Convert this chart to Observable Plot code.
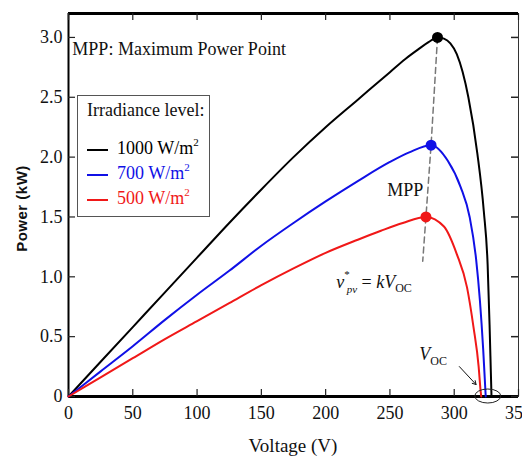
<!DOCTYPE html>
<html>
<head>
<meta charset="utf-8">
<script src="https://cdn.jsdelivr.net/npm/d3@7"></script>
<script src="https://cdn.jsdelivr.net/npm/@observablehq/plot@0.6"></script>
<style>
  html, body { margin: 0; padding: 0; background: #fff; }
  #wrap { position: relative; width: 522px; height: 461px; overflow: hidden; }
  #wrap svg text, #wrap svg tspan { font-family: "Liberation Serif", "Times New Roman", serif !important; }
  #wrap svg text.ytitle { font-family: "Liberation Sans", Arial, sans-serif !important; }
  #wrap svg g[aria-label="x-axis tick label"] text,
  #wrap svg g[aria-label="y-axis tick label"] text { font-size: 18px; }
  #legend {
    position: absolute; left: 77px; top: 95px; width: 131px; height: 120px;
    border: 1.5px solid #555; background: #fff;
    font-family: "Liberation Serif", "Times New Roman", serif; font-size: 18px; color: #111;
  }
  #legend .title { position: absolute; left: 9px; top: 4px; white-space: nowrap; }
  #legend .item { position: absolute; left: 9px; white-space: nowrap; height: 22px; line-height: 22px; }
  #legend .swatch { display: inline-block; width: 21px; height: 0; border-top: 2px solid; vertical-align: middle; margin-right: 9px; }
  #legend sup { font-size: 11px; vertical-align: 8px; line-height: 0; }
</style>
</head>
<body>
<div id="wrap"></div>
<script>
// ---- data ----
const seriesNames = ["1000 W/m2", "700 W/m2", "500 W/m2"];
const seriesColors = ["#000000", "#1010e6", "#f01818"];

const voltage1000 = [0, 25, 50, 75, 100, 125, 150, 175, 200, 225, 250, 262, 272, 280, 287, 292, 297, 302, 311, 318, 323, 326, 327.5, 328.5, 329];
const power1000   = [0, 0.29, 0.58, 0.87, 1.16, 1.45, 1.73, 2.0, 2.25, 2.48, 2.71, 2.82, 2.90, 2.96, 3.0, 2.99, 2.95, 2.86, 2.5, 2.03, 1.55, 1.1, 0.6, 0.2, 0];

const voltage700 = [0, 25, 50, 75, 100, 125, 150, 175, 200, 225, 250, 265, 282, 295, 305, 312, 317, 320, 322.5, 324, 324.5];
const power700   = [0, 0.21, 0.42, 0.64, 0.85, 1.05, 1.26, 1.45, 1.63, 1.8, 1.96, 2.04, 2.1, 1.97, 1.75, 1.5, 1.15, 0.8, 0.4, 0.1, 0];

const voltage500 = [0, 25, 50, 75, 100, 125, 150, 175, 200, 225, 243, 260, 278, 292, 302, 310, 315, 319, 320.5, 321];
const power500   = [0, 0.16, 0.32, 0.48, 0.63, 0.78, 0.93, 1.07, 1.2, 1.31, 1.385, 1.45, 1.5, 1.42, 1.19, 0.91, 0.58, 0.25, 0.05, 0];

// maximum power points
const mppVoltage = [287, 282, 278];
const mppPower   = [3.0, 2.1, 1.5];
// dashed locus v*pv = k Voc, continued below the 500 W/m2 MPP
const locusVoltage = [287, 282, 278, 275.5];
const locusPower   = [3.0, 2.1, 1.5, 1.13];

const xTicks = [0, 50, 100, 150, 200, 250, 300, 350];
const yTicks = [0, 0.5, 1.0, 1.5, 2.0, 2.5, 3.0];
const xDomain = [0, 350];
const yDomain = [0, 3.2];

// ---- build tables ----
const curves = [];
[[voltage1000, power1000], [voltage700, power700], [voltage500, power500]].forEach(([vs, ps], i) => {
  vs.forEach((v, j) => curves.push({series: seriesNames[i], v, p: ps[j]}));
});
const mpp = mppVoltage.map((v, i) => ({series: seriesNames[i], v, p: mppPower[i]}));
const locus = locusVoltage.map((v, i) => ({v, p: locusPower[i]}));

const serif = "'Liberation Serif', 'Times New Roman', serif";
const W = 522, H = 461, mL = 68, mR = 4, mT = 13, mB = 65;
const innerH = H - mT - mB;
const tickLen = 7;

const chart = Plot.plot({
  width: W, height: H,
  marginLeft: mL, marginRight: mR, marginTop: mT, marginBottom: mB,
  style: {fontFamily: serif, fontSize: "18px", color: "#111", background: "#fff"},
  x: {domain: xDomain},
  y: {domain: yDomain},
  color: {domain: seriesNames, range: seriesColors},
  marks: [
    Plot.frame({stroke: "#333", strokeWidth: 1}),
    Plot.ruleY([yDomain[0]], {stroke: "#000", strokeWidth: 3}),
    Plot.ruleY([yDomain[1]], {stroke: "#000", strokeWidth: 3}),
    Plot.ruleX([xDomain[0]], {stroke: "#000", strokeWidth: 2}),
    // inward ticks (bottom, top, left, right)
    Plot.ruleX(xTicks, {stroke: "#222", strokeWidth: 1.2, insetTop: innerH - tickLen}),
    Plot.ruleX(xTicks, {stroke: "#222", strokeWidth: 1.2, insetBottom: innerH - tickLen}),
    Plot.ruleY(yTicks, {stroke: "#222", strokeWidth: 1.2, insetRight: (W - mL - mR) - tickLen}),
    Plot.ruleY(yTicks, {stroke: "#222", strokeWidth: 1.5, insetLeft: (W - mL - mR) - tickLen}),
    Plot.axisX({ticks: xTicks, tickSize: 0, tickPadding: 10, label: null, fontSize: 18}),
    Plot.axisY({ticks: yTicks, tickSize: 0, tickPadding: 6, label: null, fontSize: 18,
      tickFormat: d => d === 0 ? "0" : d.toFixed(1)}),
    Plot.line(locus, {x: "v", y: "p", stroke: "#777", strokeWidth: 1.5, strokeDasharray: "6,4"}),
    Plot.line(curves, {x: "v", y: "p", z: "series", stroke: "series", strokeWidth: 2, curve: "monotone-x"}),
    Plot.dot(mpp, {x: "v", y: "p", fill: "series", r: 5.5}),
    Plot.text(["MPP: Maximum Power Point"], {x: 3, y: 2.9, text: d => d, textAnchor: "start", fontSize: 18, fill: "#111"}),
    Plot.text(["MPP"], {x: 262, y: 1.72, text: d => d, textAnchor: "middle", fontSize: 18, fill: "#111"}),
    Plot.arrow([{x1: 304, y1: 0.25, x2: 317, y2: 0.1}], {x1: "x1", y1: "y1", x2: "x2", y2: "y2", stroke: "#111", strokeWidth: 1, headLength: 6})
  ]
});

const wrap = document.getElementById("wrap");
wrap.appendChild(chart);

// annotations that need sub/superscripts and an ellipse, placed through the chart's scales
const sx = chart.scale("x"), sy = chart.scale("y");
const svg = d3.select(chart);
const g = svg.append("g").attr("font-family", serif).attr("fill", "#111");

const f = g.append("text").attr("x", sx.apply(238)).attr("y", sy.apply(0.9)).attr("font-size", 18);
f.append("tspan").attr("font-style", "italic").text("v");
f.append("tspan").attr("font-size", 11).attr("dy", -10).attr("dx", 0).text("*");
f.append("tspan").attr("font-size", 11).attr("font-style", "italic").attr("dy", 15).attr("dx", -3).text("pv");
f.append("tspan").attr("dy", -5).text(" = ");
f.append("tspan").attr("font-style", "italic").text("kV");
f.append("tspan").attr("font-size", 12).attr("dy", 4).text("OC");

const vo = g.append("text").attr("x", sx.apply(284)).attr("y", sy.apply(0.3)).attr("font-size", 18);
vo.append("tspan").attr("font-style", "italic").text("V");
vo.append("tspan").attr("font-size", 12).attr("dy", 5).text("OC");

g.append("ellipse")
  .attr("cx", sx.apply(326.5)).attr("cy", sy.apply(0))
  .attr("rx", 13).attr("ry", 7)
  .attr("fill", "none").attr("stroke", "#222").attr("stroke-width", 1);

// axis titles
g.append("text").attr("x", (mL + W - mR) / 2).attr("y", 452).attr("text-anchor", "middle")
  .attr("font-size", 19).text("Voltage (V)");
g.append("text").attr("class", "ytitle").attr("transform", `translate(27,${(mT + H - mB) / 2 + 4}) rotate(-90)`)
  .attr("text-anchor", "middle")
  .attr("font-weight", "bold").attr("font-size", 15).attr("letter-spacing", "0.5px").text("Power (kW)");

// legend inside the plot area
const legend = document.createElement("div");
legend.id = "legend";
legend.innerHTML = `<div class="title">Irradiance level:</div>` +
  seriesNames.map((name, i) => {
    const [num] = name.split(" ");
    return `<div class="item" style="top:${41 + i * 25}px;color:${seriesColors[i]}"><span class="swatch" style="border-color:${seriesColors[i]}"></span>${num} W/m<sup>2</sup></div>`;
  }).join("");
wrap.appendChild(legend);
</script>
</body>
</html>
